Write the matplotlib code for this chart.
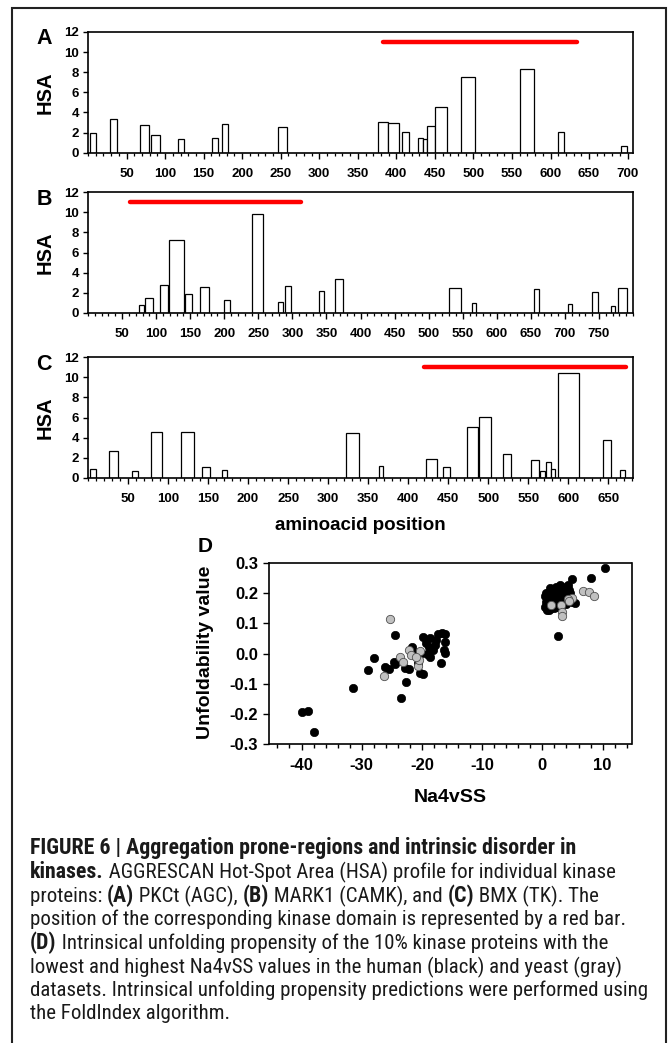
import matplotlib
matplotlib.use('Agg')
import matplotlib.pyplot as plt
from matplotlib import font_manager
from matplotlib.patches import Rectangle
from matplotlib.ticker import MultipleLocator, FixedLocator
from matplotlib.font_manager import FontProperties

plt.rcParams['axes.unicode_minus'] = False


def pick(names):
    for n in names:
        try:
            font_manager.findfont(FontProperties(family=n), fallback_to_default=False)
            return n
        except Exception:
            pass
    return 'DejaVu Sans'


FONT = pick(['Liberation Sans', 'Arial', 'DejaVu Sans'])
CAPFONT = pick(['Liberation Sans Narrow', 'Roboto Condensed', 'Liberation Sans'])
plt.rcParams['font.family'] = [FONT, 'DejaVu Sans']

# ---------------- data ----------------
# Panel A: PKCt
a_start = [3, 28, 68, 82, 117, 161, 174, 246, 376, 389, 407, 428, 434, 440, 450, 484, 561, 610, 692]
a_end = [11, 37, 79, 93, 124, 168, 182, 258, 389, 403, 417, 434, 440, 450, 466, 502, 579, 617, 699]
a_hsa = [2.0, 3.4, 2.75, 1.75, 1.4, 1.5, 2.85, 2.55, 3.1, 2.95, 2.05, 1.5, 1.35, 2.65, 4.5, 7.55, 8.3, 2.05, 0.65]
a_domain = [383, 634]
a_ticks = list(range(50, 701, 50))

# Panel B: MARK1
b_start = [75, 83, 105, 119, 142, 164, 199, 241, 279, 289, 339, 363, 530, 564, 655, 704, 740, 767, 778]
b_end = [82, 95, 117, 141, 153, 177, 208, 257, 286, 298, 347, 374, 547, 570, 662, 711, 749, 773, 791]
b_hsa = [0.8, 1.45, 2.8, 7.25, 1.85, 2.55, 1.3, 9.85, 1.05, 2.65, 2.15, 3.35, 2.5, 1.0, 2.4, 0.85, 2.05, 0.65, 2.45]
b_domain = [62, 313]
b_ticks = list(range(50, 751, 50))

# Panel C: BMX
c_start = [3, 26, 55, 79, 116, 143, 167, 323, 363, 422, 444, 474, 488, 518, 554, 565, 572, 579, 587, 643, 665]
c_end = [10, 37, 63, 93, 132, 152, 174, 339, 369, 436, 452, 487, 504, 529, 563, 571, 579, 584, 613, 654, 671]
c_hsa = [0.85, 2.65, 0.7, 4.6, 4.55, 1.05, 0.75, 4.5, 1.15, 1.85, 1.05, 5.05, 6.05, 2.4, 1.75, 0.65, 1.6, 0.85, 10.4, 3.8, 0.75]
c_domain = [420, 672]
c_ticks = list(range(50, 651, 50))

hsa_ticks = [0, 2, 4, 6, 8, 10, 12]

# Panel D: human (black)
human_x = [-39.9, -38.9, -37.9, -31.4, -28.9, -27.9, -24.5, -26.1, -25.5, -24.5, -23.5, -22.7, -22.8,
           -22.2, -21.6, -21.3, -21.6, -20.3, -19.9, -19.3, -18.9, -18.6, -20.6, -20.3, -19.9, -19.2,
           -18.6, -18.1, -17.9, -17.6, -17.3, -16.9, -16.2, -16.2, -16.4, -16.1, -16.7, -24.6,
           10.4, 8.05, 4.9, 2.6, 5.5,
           0.5, 0.6, 0.5, 0.7, 0.9, 1.0, 1.2, 1.1, 1.5, 1.7, 1.8, 2.0, 2.2, 2.3, 2.5, 2.7, 2.9, 3.1,
           3.3, 3.5, 3.7, 3.9, 4.1, 4.3, 4.0, 4.6, 5.0, 0.6, 0.8, 1.3, 1.9, 2.6, 3.4, 1.4, 0.9, 2.1,
           4.5, 3.0, 1.6, 2.4, 0.7, 1.2]
human_y = [-0.193, -0.189, -0.260, -0.113, -0.056, -0.014, 0.062, -0.044, -0.052, -0.035, -0.147, -0.093, -0.049,
           -0.052, 0.022, -0.005, 0.008, 0.0, 0.056, 0.034, 0.023, 0.050, -0.032, -0.065, -0.068, 0.0,
           -0.010, 0.012, 0.028, 0.045, 0.063, -0.032, 0.064, 0.039, 0.012, 0.001, 0.067, -0.027,
           0.281, 0.248, 0.246, 0.057, 0.166,
           0.19, 0.17, 0.155, 0.145, 0.20, 0.18, 0.16, 0.145, 0.19, 0.21, 0.17, 0.15, 0.22, 0.20, 0.18, 0.16, 0.21, 0.19,
           0.22, 0.17, 0.20, 0.215, 0.19, 0.225, 0.165, 0.20, 0.17, 0.20, 0.16, 0.20, 0.19, 0.205, 0.185, 0.15, 0.175, 0.175,
           0.21, 0.225, 0.165, 0.155, 0.185, 0.215]

# Panel D: yeast (gray)
yeast_x = [-25.3, -26.3, -23.7, -23.2, -22.1, -21.9, -20.7, -20.5, -20.4, -21.0,
           6.8, 7.8, 8.5, 4.9, 4.2, 4.4, 1.5, 3.05, 3.2, 3.2]
yeast_y = [0.113, -0.073, -0.012, -0.028, 0.012, -0.005, -0.041, -0.023, 0.008, -0.012,
           0.206, 0.202, 0.189, 0.184, 0.180, 0.172, 0.160, 0.160, 0.136, 0.124]

d_xticks = [-40, -30, -20, -10, 0, 10]
d_yticks = [-0.3, -0.2, -0.1, 0.0, 0.1, 0.2, 0.3]

caption_lines = [
    [("FIGURE 6 | Aggregation prone-regions and intrinsic disorder in", True)],
    [("kinases.", True), (" AGGRESCAN Hot-Spot Area (HSA) profile for individual kinase", False)],
    [("proteins: ", False), ("(A)", True), (" PKCt (AGC), ", False), ("(B)", True),
     (" MARK1 (CAMK), and ", False), ("(C)", True), (" BMX (TK). The", False)],
    [("position of the corresponding kinase domain is represented by a red bar.", False)],
    [("(D)", True), (" Intrinsical unfolding propensity of the 10% kinase proteins with the", False)],
    [("lowest and highest Na4vSS values in the human (black) and yeast (gray)", False)],
    [("datasets. Intrinsical unfolding propensity predictions were performed using", False)],
    [("the FoldIndex algorithm.", False)],
]

# ---------------- layout ----------------
W, H = 671, 1043
fig = plt.figure(figsize=(W / 100, H / 100), dpi=100)


def ax_px(left, top, right, bottom):
    return fig.add_axes([left / W, 1 - bottom / H, (right - left) / W, (bottom - top) / H])


def hsa_panel(ax, starts, ends, hsa, domain, xmax, ticks, letter):
    widths = [e - s for s, e in zip(starts, ends)]
    ax.bar(starts, hsa, width=widths, align='edge', facecolor='white', edgecolor='black', linewidth=0.9, zorder=2)
    ax.plot(domain, [11, 11], color='#ff0000', linewidth=3.2, solid_capstyle='round', zorder=3)
    ax.set_xlim(0, xmax)
    ax.set_ylim(0, 12)
    ax.xaxis.set_major_locator(FixedLocator(ticks))
    ax.xaxis.set_minor_locator(MultipleLocator(10))
    ax.yaxis.set_major_locator(FixedLocator(hsa_ticks))
    ax.tick_params(axis='x', which='major', direction='out', length=4, width=1.0, pad=7, labelsize=9.5)
    ax.tick_params(axis='x', which='minor', direction='out', length=2.2, width=0.9)
    ax.tick_params(axis='y', which='major', direction='out', length=3.5, width=1.0, pad=3, labelsize=9.5)
    for lab in ax.get_xticklabels() + ax.get_yticklabels():
        lab.set_fontweight('bold')
    for sp in ax.spines.values():
        sp.set_linewidth(1.2)
    pos = ax.get_position()
    ycen = (pos.y0 + pos.y1) / 2
    fig.text(45 / W, ycen, 'HSA', rotation=90, ha='center', va='center', fontsize=14.5, fontweight='bold')
    fig.text(44 / W, pos.y1 - 7 / H, letter, ha='center', va='center', fontsize=15.5, fontweight='bold')


axA = ax_px(88, 32, 633, 152.7)
hsa_panel(axA, a_start, a_end, a_hsa, a_domain, 707, a_ticks, 'A')
axB = ax_px(88, 192.3, 633, 312.7)
hsa_panel(axB, b_start, b_end, b_hsa, b_domain, 800, b_ticks, 'B')
axC = ax_px(88, 357.3, 633, 477.7)
hsa_panel(axC, c_start, c_end, c_hsa, c_domain, 681, c_ticks, 'C')
fig.text(360.5 / W, 1 - 525 / H, 'aminoacid position', ha='center', va='center', fontsize=13.5, fontweight='bold')

# Panel D
axD = ax_px(269, 562.7, 631.5, 744.3)
axD.scatter(human_x, human_y, s=36, facecolor='black', edgecolor='black', linewidth=0.5, zorder=2)
axD.scatter(yeast_x, yeast_y, s=36, facecolor='#c0c0c0', edgecolor='#505050', linewidth=0.6, zorder=3)
axD.set_xlim(-45.4, 14.8)
axD.set_ylim(-0.3, 0.3)
axD.xaxis.set_major_locator(FixedLocator(d_xticks))
axD.xaxis.set_minor_locator(MultipleLocator(2))
axD.yaxis.set_major_locator(FixedLocator(d_yticks))
axD.set_yticklabels(['%.1f' % v for v in d_yticks])
axD.tick_params(axis='x', which='major', direction='out', length=4, width=1.0, pad=6, labelsize=12)
axD.tick_params(axis='x', which='minor', direction='out', length=3, width=1.0)
axD.tick_params(axis='y', which='major', direction='out', length=4, width=1.0, pad=4, labelsize=12)
for lab in axD.get_xticklabels() + axD.get_yticklabels():
    lab.set_fontweight('bold')
for sp in axD.spines.values():
    sp.set_linewidth(1.2)
fig.text(206 / W, 1 - 652 / H, 'Unfoldability value', rotation=90, ha='center', va='center',
         fontsize=14, fontweight='bold')
fig.text(450.5 / W, 1 - 797 / H, 'Na4vSS', ha='center', va='center', fontsize=14, fontweight='bold')
fig.text(205 / W, 1 - 547 / H, 'D', ha='center', va='center', fontsize=15, fontweight='bold')

# frame
fig.add_artist(Rectangle((12 / W, -0.01), (666 - 12) / W, 1.01 - 8 / H, transform=fig.transFigure,
                         fill=False, edgecolor='#222222', linewidth=1.5))

# caption with mixed weights
renderer = fig.canvas.get_renderer()


def seg_width(s, bold, size):
    fp = FontProperties(family=CAPFONT, weight='bold' if bold else 'normal', size=size)
    w1, _, _ = renderer.get_text_width_height_descent('x' + s + 'x', fp, ismath=False)
    w0, _, _ = renderer.get_text_width_height_descent('xx', fp, ismath=False)
    return w1 - w0


ref_line = caption_lines[6]
w10 = sum(seg_width(s, b, 10) for s, b in ref_line)
cap_size = 10 * 616 / w10
hdr_line = caption_lines[0]
w10b = sum(seg_width(s, b, 10) for s, b in hdr_line)
bold_size = min(10 * 548 / w10b, cap_size * 1.08)

line_y = [848, 872, 896, 919.5, 943, 967, 990, 1013.5]
for segs, yy in zip(caption_lines, line_y):
    x = 30.0
    for s, b in segs:
        size = bold_size if b else cap_size
        fig.text(x / W, 1 - yy / H, s, ha='left', va='center', fontsize=size,
                 fontweight='bold' if b else 'normal', family=CAPFONT, color='#1a1a1a')
        x += seg_width(s, b, size)

fig.savefig('out.png', dpi=100)
